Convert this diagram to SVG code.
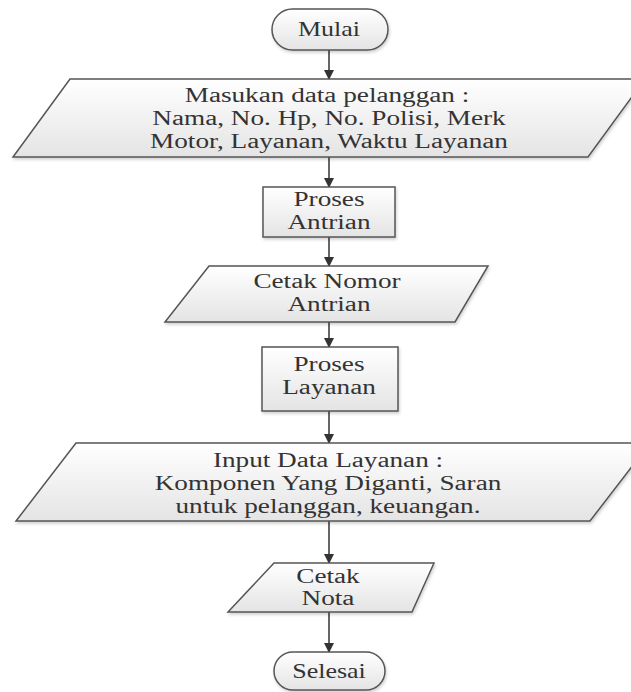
<svg xmlns="http://www.w3.org/2000/svg" width="631" height="692" viewBox="0 0 631 692">
<defs>
<linearGradient id="g" x1="0" y1="0" x2="0" y2="1">
<stop offset="0" stop-color="#ffffff"/>
<stop offset="1" stop-color="#e4e4e4"/>
</linearGradient>
<filter id="sh" x="-10%" y="-10%" width="120%" height="130%">
<feDropShadow dx="1" dy="2" stdDeviation="1.5" flood-color="#000" flood-opacity="0.18"/>
</filter>
<marker id="ah" markerWidth="10" markerHeight="10" refX="9" refY="5" orient="auto" markerUnits="userSpaceOnUse">
<path d="M0,0 L10,5 L0,10 Z" fill="#333"/>
</marker>
<style>
.s{fill:url(#g);stroke:#555;stroke-width:1.5;filter:url(#sh)}
.t{font-family:"Liberation Serif","Times New Roman",serif;font-size:20px;fill:#333;text-anchor:middle}
.c{stroke:#333;stroke-width:1.5;fill:none;marker-end:url(#ah)}
</style>
</defs>
<rect width="631" height="692" fill="#fff"/>
<g id="connectors">
<line class="c" x1="329" y1="50" x2="329" y2="79"/>
<line class="c" x1="329" y1="157" x2="329" y2="187"/>
<line class="c" x1="329" y1="237" x2="329" y2="266"/>
<line class="c" x1="329" y1="322" x2="329" y2="347"/>
<line class="c" x1="329" y1="411" x2="329" y2="443"/>
<line class="c" x1="329" y1="521" x2="329" y2="563"/>
<line class="c" x1="329" y1="612" x2="329" y2="652"/>
</g>
<g id="mulai">
<rect class="s" x="272" y="9" width="116" height="41" rx="20.5"/>
<text class="t" transform="translate(329 0) scale(1.3 1)" x="0" y="36">Mulai</text>
</g>
<g id="input-pelanggan">
<polygon class="s" points="70,79 645,79 588,157 13,157"/>
<text class="t" transform="translate(327 0) scale(1.36 1)" x="0" y="102">Masukan data pelanggan :</text>
<text class="t" transform="translate(329 0) scale(1.36 1)" x="0" y="125">Nama, No. Hp, No. Polisi, Merk</text>
<text class="t" transform="translate(329 0) scale(1.36 1)" x="0" y="148">Motor, Layanan, Waktu Layanan</text>
</g>
<g id="proses-antrian">
<rect class="s" x="263" y="187" width="132" height="50"/>
<text class="t" transform="translate(329 0) scale(1.36 1)" x="0" y="206">Proses</text>
<text class="t" transform="translate(329 0) scale(1.36 1)" x="0" y="229">Antrian</text>
</g>
<g id="cetak-nomor">
<polygon class="s" points="209,266 488,266 455,322 165,322"/>
<text class="t" transform="translate(327 0) scale(1.36 1)" x="0" y="288">Cetak Nomor</text>
<text class="t" transform="translate(329 0) scale(1.36 1)" x="0" y="311">Antrian</text>
</g>
<g id="proses-layanan">
<rect class="s" x="262" y="347" width="136" height="64"/>
<text class="t" transform="translate(329 0) scale(1.36 1)" x="0" y="371">Proses</text>
<text class="t" transform="translate(329 0) scale(1.36 1)" x="0" y="394">Layanan</text>
</g>
<g id="input-layanan">
<polygon class="s" points="76,443 650,443 590,521 16,521"/>
<text class="t" transform="translate(328 0) scale(1.36 1)" x="0" y="467">Input Data Layanan :</text>
<text class="t" transform="translate(328 0) scale(1.36 1)" x="0" y="490">Komponen Yang Diganti, Saran</text>
<text class="t" transform="translate(328 0) scale(1.36 1)" x="0" y="513">untuk pelanggan, keuangan.</text>
</g>
<g id="cetak-nota">
<polygon class="s" points="274,563 434,563 412,612 228,612"/>
<text class="t" transform="translate(328 0) scale(1.36 1)" x="0" y="583">Cetak</text>
<text class="t" transform="translate(328 0) scale(1.36 1)" x="0" y="605">Nota</text>
</g>
<g id="selesai">
<rect class="s" x="274" y="652" width="111" height="38" rx="19"/>
<text class="t" transform="translate(329 0) scale(1.3 1)" x="0" y="678">Selesai</text>
</g>
</svg>
